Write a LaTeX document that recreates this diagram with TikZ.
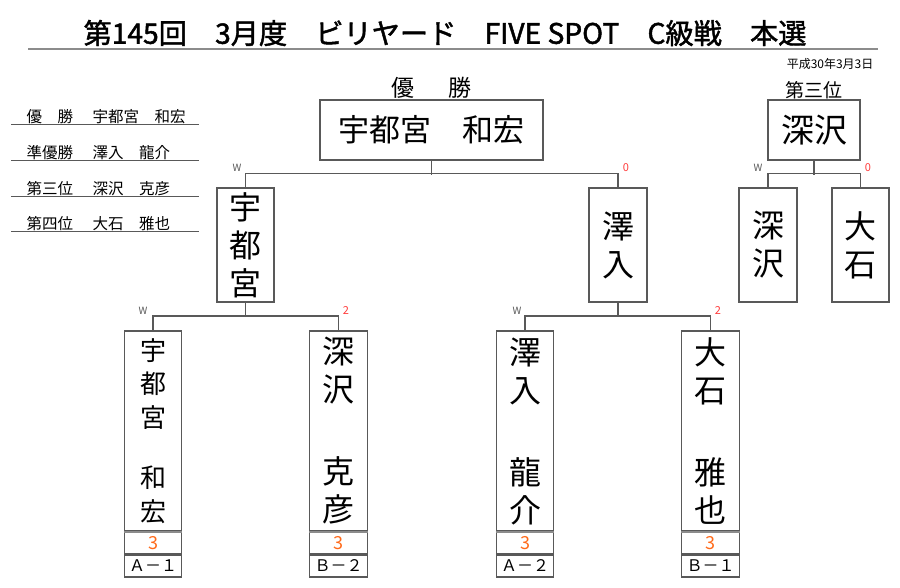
\documentclass[tikz,border=0pt]{standalone}
\usepackage{fontspec}
\setmainfont{Noto Sans CJK JP}
\newfontfamily\titlefont[AutoFakeBold=1.6]{Noto Sans CJK JP}
\usetikzlibrary{positioning}
\definecolor{boxgray}{HTML}{595959}
\definecolor{rulegray}{HTML}{8C8C8C}
\definecolor{scoreorange}{HTML}{FF6A1A}
\definecolor{winred}{HTML}{FF3B3B}
\tikzset{every path/.style={line width=1.2pt}}
\tikzset{
  plbox/.style={draw=boxgray,inner sep=0pt,align=center},
  conn/.style={draw=boxgray},
  bigname/.style={font=\fontsize{32}{38}\selectfont},
  smallname/.style={font=\fontsize{26}{33.5}\selectfont},
  wlab/.style={font=\fontsize{10}{12}\selectfont,text=boxgray,inner sep=0pt},
  rlab/.style={font=\fontsize{11}{13}\selectfont,text=winred,inner sep=0pt},
  listtxt/.style={font=\fontsize{15.5}{18}\selectfont,anchor=west,inner sep=0pt}
}

\begin{document}
\begin{tikzpicture}[x=1pt,y=-1pt]
\useasboundingbox (0,0) rectangle (900,587);
% title
\node[font=\titlefont\bfseries\fontsize{28.2}{32}\selectfont] (title) at (445,33) {第145回　3月度　ビリヤード　FIVE SPOT　C級戦　本選};
\draw[rulegray,line width=2.4pt] (28,49) -- (878,49);
\node[font=\fontsize{12}{14}\selectfont,anchor=east,inner sep=0pt] (date) at (874,64) {平成30年3月3日};

% result list
\node[listtxt] (lab1) at (26,117) {優　勝};
\node[listtxt] (who1) at (92,117) {宇都宮　和宏};
\draw[boxgray,line width=1pt] (11,124) -- (199,124);
\node[listtxt] (lab2) at (26,153) {準優勝};
\node[listtxt] (who2) at (92,153) {澤入　龍介};
\draw[boxgray,line width=1pt] (11,160) -- (199,160);
\node[listtxt] (lab3) at (26,189) {第三位};
\node[listtxt] (who3) at (92,189) {深沢　克彦};
\draw[boxgray,line width=1pt] (11,196) -- (199,196);
\node[listtxt] (lab4) at (26,224) {第四位};
\node[listtxt] (who4) at (92,224) {大石　雅也};
\draw[boxgray,line width=1pt] (11,231) -- (199,231);

% champion and third place
\node[plbox,minimum width=223pt,minimum height=60pt,font=\fontsize{31}{36}\selectfont] (champ) at (431.5,130) {宇都宮　和宏};
\node[above=0pt of champ,inner sep=0pt,font=\fontsize{23}{26}\selectfont] (champlab) {優\hspace{34pt}勝};
\node[plbox,minimum width=92pt,minimum height=60pt,font=\fontsize{33}{38}\selectfont] (third) at (814,130) {深沢};
\node[above=0pt of third,inner sep=0pt,font=\fontsize{19}{22}\selectfont] (thirdlab) {第三位};

% second round
\node[plbox,bigname,minimum width=57pt,minimum height=114pt] (semiA) at (245.5,245) {宇\\都\\宮};
\node[plbox,bigname,minimum width=58pt,minimum height=114pt] (semiB) at (618,245) {澤\\入};
\node[plbox,bigname,minimum width=58pt,minimum height=114pt] (thA) at (768,245) {深\\沢};
\node[plbox,bigname,minimum width=57pt,minimum height=114pt] (thB) at (860.5,245) {大\\石};

% first round
\node[plbox,smallname,minimum width=57.5pt,minimum height=200pt] (pA1) at (153,431) {宇\\都\\宮\\[27pt]和\\宏};
\node[plbox,bigname,minimum width=57.5pt,minimum height=200pt] (pB2) at (338.5,431) {深\\沢\\[44pt]克\\彦};
\node[plbox,bigname,minimum width=57.5pt,minimum height=200pt] (pA2) at (525,431) {澤\\入\\[44pt]龍\\介};
\node[plbox,bigname,minimum width=57.5pt,minimum height=200pt] (pB1) at (710.5,431) {大\\石\\[44pt]雅\\也};

\foreach \p/\code in {pA1/Ａ－１,pB2/Ｂ－２,pA2/Ａ－２,pB1/Ｂ－１}{
  \node[plbox,minimum width=57.5pt,minimum height=21.5pt,below=0pt of \p,font=\fontsize{18}{20}\selectfont,text=scoreorange] (\p s) {3};
  \node[plbox,minimum width=57.5pt,minimum height=22pt,below=0pt of \p s,font=\fontsize{16}{18}\selectfont] (\p c) {\code};
  \draw[rulegray,line width=2.2pt] (\p.south west) -- (\p.south east);
}

% brackets
\draw[conn] (champ.south) -- ++(0,14);
\draw[conn] (semiA.north) -- ++(0,-14) -| (semiB.north);
\draw[conn] (third.south) -- ++(0,14);
\draw[conn] (thA.north) -- ++(0,-14) -| (thB.north);
\draw[conn] (semiA.south) -- ++(0,14.5);
\draw[conn] (pA1.north) -- ++(0,-14.5) -| (pB2.north);
\draw[conn] (semiB.south) -- ++(0,14.5);
\draw[conn] (pA2.north) -- ++(0,-14.5) -| (pB1.north);

% match marks
\node[wlab] (wA) at (237,168) {W};
\node[rlab] (rA) at (626,168) {0};
\node[wlab] (wT) at (758,168) {W};
\node[rlab] (rT) at (868,168) {0};
\node[wlab] (wL) at (143,311) {W};
\node[rlab] (rL) at (346,311) {2};
\node[wlab] (wR) at (517,311) {W};
\node[rlab] (rR) at (718,311) {2};
\end{tikzpicture}
\end{document}
